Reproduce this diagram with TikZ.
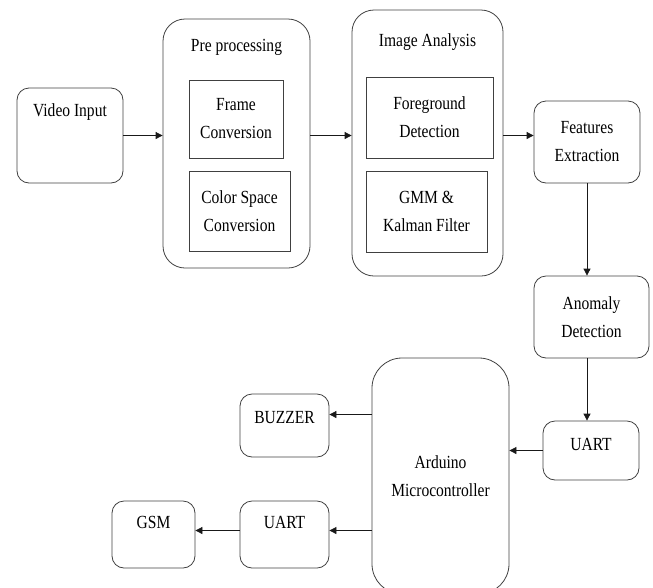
\documentclass[tikz,border=0pt]{standalone}
\usepackage{fontspec}
\setmainfont{Liberation Serif}[FakeStretch=0.84]
\usepackage{tikz}
\usetikzlibrary{arrows.meta, positioning}
\tikzset{>={Triangle[length=7pt,width=7pt]}}
\tikzset{
	rbox/.style={draw=black!75, line width=0.8pt, rounded corners=12pt, inner sep=0pt, align=center},
	sbox/.style={draw=black!75, line width=0.8pt, inner sep=0pt, align=center},
	lbl/.style={inner sep=0pt},
	conn/.style={->, line width=0.8pt, black!90}
}

\begin{document}
\begin{tikzpicture}[x=1pt,y=-1pt,font=\fontsize{18.5}{28}\selectfont]
	\useasboundingbox (0,0) rectangle (653,587);
	% top row
	\node [rbox, minimum width=106pt, minimum height=95pt] (vin) at (70,135.5) {};
	\node [lbl] (vin-t) at ([yshift=-24pt]vin.north) {Video Input};
	\node [rbox, rounded corners=22pt, minimum width=147pt, minimum height=249pt] (pre) at (236.5,143.5) {};
	\node [lbl] (pre-t) at ([yshift=-29pt]pre.north) {Pre processing};
	\node [sbox, minimum width=94pt, minimum height=78pt] (frame) at (236,119) {Frame\\Conversion};
	\node [sbox, minimum width=101pt, minimum height=80pt] (csc) at (239.5,211) {Color Space\\Conversion};
	\node [rbox, rounded corners=22pt, minimum width=151pt, minimum height=266pt] (ana) at (427.5,143) {};
	\node [lbl] (ana-t) at ([yshift=-32pt]ana.north) {Image Analysis};
	\node [sbox, minimum width=127pt, minimum height=81pt] (fg) at (429.5,117.5) {Foreground\\Detection};
	\node [sbox, minimum width=121pt, minimum height=81pt] (gmm) at (426.5,211.5) {GMM \&\\Kalman Filter};
	\node [rbox, minimum width=106pt, minimum height=82pt] (feat) at (587,142) {Features\\Extraction};
	% right column and bottom
	\node [rbox, minimum width=115pt, minimum height=82pt] (anom) at (591.5,317) {Anomaly\\Detection};
	\node [rbox, minimum width=96pt, minimum height=59pt] (uartr) at (591,450.5) {};
	\node [lbl] (uartr-t) at ([yshift=-24pt]uartr.north) {UART};
	\node [rbox, rounded corners=30pt, minimum width=137pt, minimum height=236pt] (ard) at (440.5,476) {Arduino\\Microcontroller};
	\node [rbox, minimum width=89pt, minimum height=63pt] (buz) at (284.5,425.5) {};
	\node [lbl] (buz-t) at ([yshift=-24pt]buz.north) {BUZZER};
	\node [rbox, minimum width=89pt, minimum height=67pt] (uartl) at (284.5,534.5) {};
	\node [lbl] (uartl-t) at ([yshift=-22pt]uartl.north) {UART};
	\node [rbox, minimum width=83pt, minimum height=67pt] (gsm) at (153.5,534.5) {};
	\node [lbl] (gsm-t) at ([yshift=-22pt]gsm.north) {GSM};
	% connectors
	\draw [conn] (vin.east) -- (vin.east -| pre.west);
	\draw [conn] (pre.east |- vin.east) -- (ana.west |- vin.east);
	\draw [conn] (ana.east |- vin.east) -- (feat.west |- vin.east);
	\draw [conn] (feat.south) -- (feat.south |- anom.north);
	\draw [conn] (feat.south |- anom.south) -- (feat.south |- uartr.north);
	\draw [conn] (uartr.west) -- (uartr.west -| ard.east);
	\coordinate (buz-in) at ([yshift=11pt]buz.east);
	\coordinate (uartl-in) at ([yshift=4pt]uartl.east);
	\draw [conn] (buz-in -| ard.west) -- (buz-in);
	\draw [conn] (uartl-in -| ard.west) -- (uartl-in);
	\draw [conn] (uartl-in -| uartl.west) -- (uartl-in -| gsm.east);
\end{tikzpicture}
\end{document}
